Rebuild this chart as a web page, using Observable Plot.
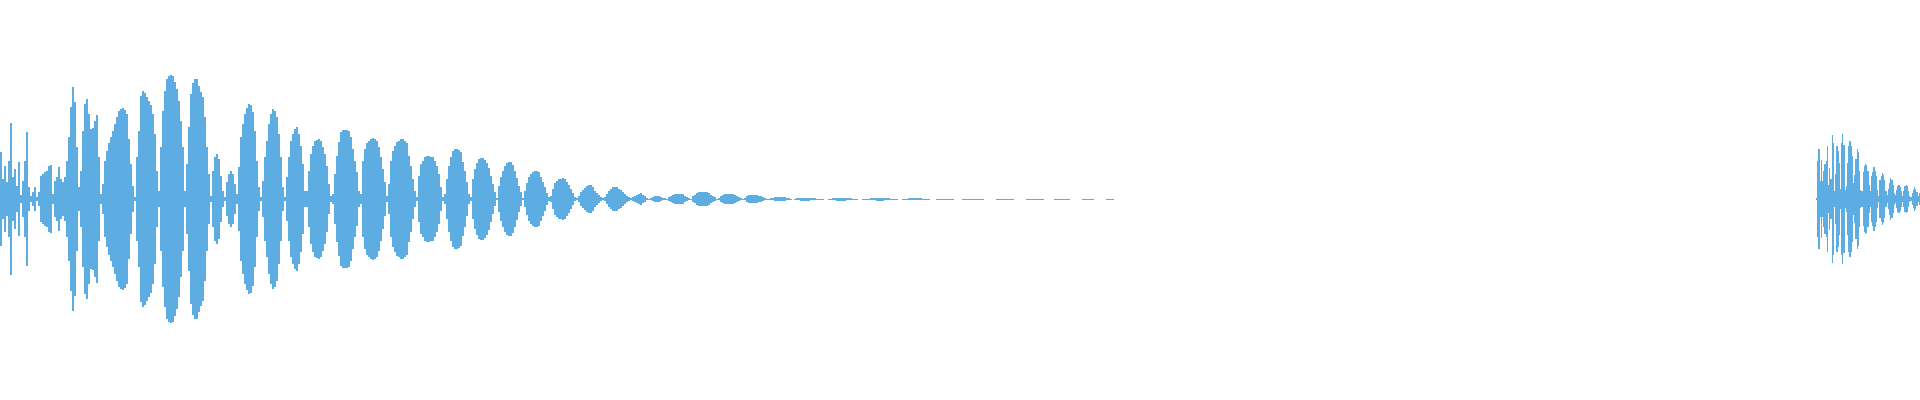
<!DOCTYPE html>
<html><head><meta charset="utf-8">
<script src="https://cdn.jsdelivr.net/npm/d3@7"></script>
<script src="https://cdn.jsdelivr.net/npm/@observablehq/plot@0.6"></script>
<style>html,body{margin:0;padding:0;background:#fff;overflow:hidden}</style>
</head><body><div id="chart"></div>
<script>
// Main recording: peak amplitude per sample (one sample every 2 time units)
const mainStep = 2;
const amplitude = [
47,20,33,17,38,76,22,30,13,37,
4,18,38,67,12,3,7,12,2,7,
23,25,27,28,33,34,5,18,22,32,
20,17,22,38,62,92,112,97,52,12,
28,68,95,100,85,70,71,78,84,42,
5,15,38,48,56,62,68,75,82,88,
90,91,89,85,60,35,13,2,42,68,
103,108,106,102,98,94,85,65,28,8,
52,88,108,120,123,124,123,117,110,98,
78,52,8,35,72,105,116,120,120,113,
107,102,82,52,25,3,28,42,45,40,
23,8,2,17,25,28,25,15,5,32,
62,75,85,91,95,94,87,68,38,12,
2,18,42,58,75,85,90,88,82,65,
42,12,2,22,42,58,65,70,72,65,
53,35,8,8,28,45,53,58,59,60,
58,52,45,33,15,3,5,25,43,57,
67,69,69,69,68,62,50,38,27,8,
5,38,50,56,58,60,61,60,58,52,
42,30,17,3,15,38,48,53,57,58,
60,60,58,56,43,33,20,8,2,23,
35,38,42,43,43,42,42,38,33,25,
12,2,5,20,33,42,48,50,50,49,
47,37,28,17,5,2,20,30,36,40,
41,41,39,36,31,23,15,7,1,13,
22,28,33,36,37,37,34,28,21,13,
7,1,8,16,22,25,27,28,28,27,
22,17,12,6,2,3,10,16,18,20,
20,21,20,17,14,10,6,2,1,3,
7,9,11,13,14,14,12,8,6,4,
2,1,2,5,8,10,12,12,12,10,
9,7,5,3,2,1,2,3,4,5,
6,4,3,1,0.5,1,2,3,3,3,
2,1,1,0.5,2,3,4,5,5,5,
5,5,3,2,1,0.5,3,4,6,7,
7,7,7,7,6,4,3,2,0.5,1,
3,4,5,5,5,5,5,4,3,2,
1,0.5,1,3,4,4,4,4,4,3,
3,2,1,0.5,0.5,1,1,2,2,2,
2,2,2,1,1,0.5,0,0.5,1,1,
1.5,1.5,1.5,1.5,1.5,1,1,1,0.5,0.5,
0.5,0.5,0,0,0.5,0.5,1,1,1.5,1.5,
1.5,1.5,1.5,1,1,1,0.5,0.5,0.5,0,
0,0.5,0.5,0.5,0.5,1,1,1,1.5,1.5,
1.5,1.5,1,1,1,0.5,0.5,0.5,0.5,0,
0,0.5,0.5,0.5,1,1,1,1,1,1,
1,0.5,0.5,0.5,0.5,0,0,0,0.5,0.5,
0.5,0.5,0.5,0.5,0.5,0.5,0.5,0,0,0,
0,0.5,0.5,0.5,0.5,0.5,0.5,0.5,0.5,0.5,
0.5,0.5,0,0,0,0,0,0,0.5,0.5,
0.5,0.5,0.5,0.5,0.5,0.5,0.5,0,0,0,
0,0,0,0.5,0.5,0.5,0.5,0.5,0.5,0.5,
0.5,0.5,0,0,0,0,0,0.5,0.5,0.5,
0.5,0.5,0.5,0.5,0.5,0,0,0,0,0,
0,0.5,0.5,0.5,0.5,0.5,0.5,0,0,0,
0,0,0,0.5,0.5,0.5,0.5
];

// Second, short recording at the end of the timeline
const tailStart = 1816;
const tailEnd = 1920;
const tailAmplitude = [
1,38,50,18,39,18,28,35,38,53,
14,31,20,64,56,8,25,53,48,36,
10,56,65,54,9,13,36,53,58,53,
43,16,24,40,50,47,28,9,8,27,
33,35,34,28,14,8,23,27,32,28,
23,9,3,19,23,26,24,19,8,4,
10,16,21,19,14,6,4,9,13,14,
12,8,3,8,13,14,13,8,3,2,
6,9,12,10,7,3,6
];

// Each sample is held over its interval (two points per sample -> stepped envelope)
function held(values, start, step, seg) {
  const out = [];
  values.forEach((a, i) => {
    out.push({t: start + i * step, a, seg});
    out.push({t: start + (i + 1) * step, a, seg});
  });
  return out;
}
const tailStep = (tailEnd - tailStart) / tailAmplitude.length;
const rows = held(amplitude, 0, mainStep, "main").concat(held(tailAmplitude, tailStart, tailStep, "tail"));

const chart = Plot.plot({
  width: 1920,
  height: 400,
  marginTop: 0,
  marginRight: 0,
  marginLeft: 0,
  marginBottom: 2,
  x: {domain: [0, 1920], axis: null},
  y: {domain: [-199, 199], axis: null},
  marks: [
    Plot.area(rows, {
      x1: "t",
      y1: d => -d.a,
      y2: d => d.a,
      z: "seg",
      fill: "#5DADE2",
      shapeRendering: "crispEdges"
    })
  ]
});
document.getElementById("chart").append(chart);
</script></body></html>
